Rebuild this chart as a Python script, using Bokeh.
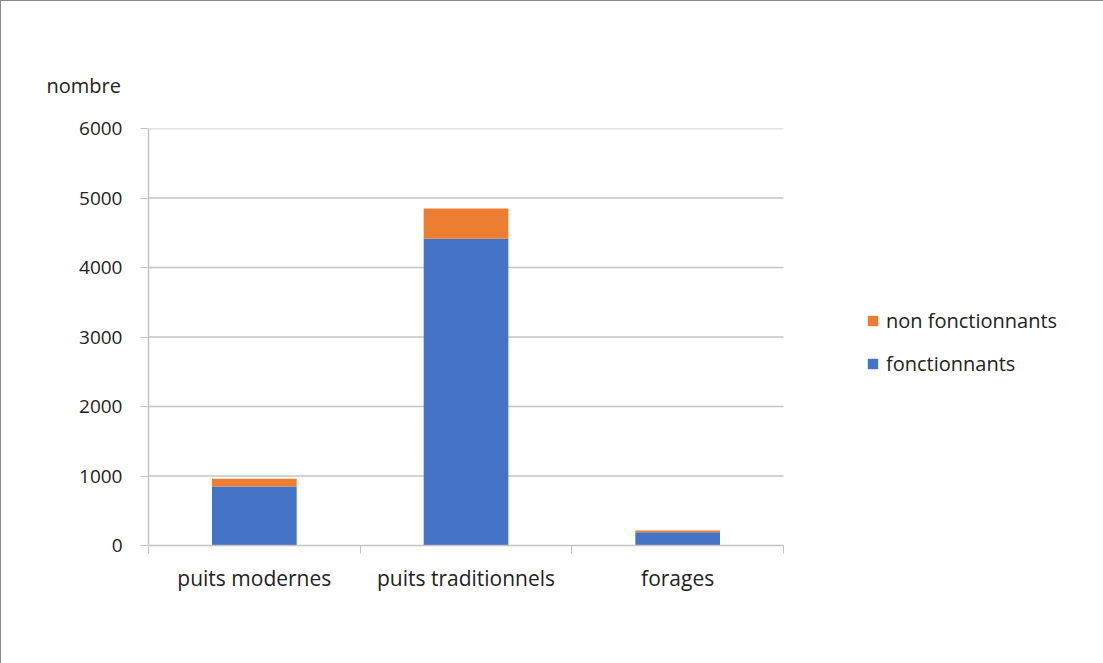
from bokeh.plotting import figure
from bokeh.models import (ColumnDataSource, FixedTicker, LinearAxis, Legend, LegendItem,
                          Title, Range1d)
from bokeh.embed import file_html
from bokeh.resources import INLINE

categories = ["puits modernes", "puits traditionnels", "forages"]
fonctionnants = [850, 4415, 190]
non_fonctionnants = [110, 435, 25]
y_ticks = [0, 1000, 2000, 3000, 4000, 5000, 6000]

BLUE = "#4472C4"
ORANGE = "#ED7D31"
FONT = "Open Sans"
GRID = "#c4c4c4"
TXT = "#222222"

# layout: categories occupy 635 px of a 955 px frame (rest holds the legend)
PLOT_W = 635
FRAME_W = 955
n = len(categories)
x_end = n * FRAME_W / PLOT_W

xc = [i + 0.5 for i in range(n)]
tops = [a + b for a, b in zip(fonctionnants, non_fonctionnants)]
src = ColumnDataSource(dict(x=xc, f=fonctionnants, top=tops, zero=[0] * n))

p = figure(frame_width=FRAME_W, frame_height=417, output_backend="svg", toolbar_location=None,
           x_range=Range1d(0, x_end), y_range=Range1d(0, 6000),
           min_border_left=147, min_border_right=0, min_border_top=127, min_border_bottom=119,
           x_axis_type=None, y_axis_type=None)
p.outline_line_color = None
p.styles = {"border": "1px solid #8a8a8a", "box-sizing": "border-box"}

p.ygrid.visible = False
p.xgrid.visible = False

# horizontal gridlines limited to the category area
gy = y_ticks[1:]
p.segment(x0=[0] * len(gy), y0=gy, x1=[n] * len(gy), y1=gy, line_color=GRID, line_width=1.5)

r_f = p.vbar(x="x", width=0.40, bottom="zero", top="f", source=src, fill_color=BLUE, line_color=None)
r_n = p.vbar(x="x", width=0.40, bottom="f", top="top", source=src, fill_color=ORANGE, line_color=None)

# y axis
yax = LinearAxis(ticker=FixedTicker(ticks=y_ticks))
yax.axis_line_color = GRID
yax.axis_line_width = 1.5
yax.major_tick_line_color = GRID
yax.major_tick_out = 8
yax.major_tick_in = 0
yax.minor_tick_line_color = None
yax.major_label_text_font = FONT
yax.major_label_text_font_size = "19px"
yax.major_label_text_color = TXT
yax.major_label_standoff = 18
p.add_layout(yax, "left")

# x axis with boundary ticks
xax = LinearAxis(ticker=FixedTicker(ticks=list(range(n + 1))), bounds=(0, n),
                 major_label_overrides={i: "" for i in range(n + 1)})
xax.axis_line_color = GRID
xax.axis_line_width = 1.5
xax.major_tick_line_color = GRID
xax.major_tick_out = 8
xax.major_tick_in = 0
xax.minor_tick_line_color = None
xax.major_label_text_font_size = "1px"
xax.major_label_standoff = 0
p.add_layout(xax, "below")

# category labels
xlab = LinearAxis(ticker=FixedTicker(ticks=xc),
                  major_label_overrides={x: c for x, c in zip(xc, categories)})
xlab.axis_line_color = None
xlab.major_tick_line_color = None
xlab.minor_tick_line_color = None
xlab.major_label_text_font = FONT
xlab.major_label_text_font_size = "21px"
xlab.major_label_text_color = TXT
xlab.major_label_standoff = 4
p.add_layout(xlab, "below")

p.add_layout(Title(text="nombre", align="left", offset=-102, text_font=FONT,
                   text_font_size="20px", text_font_style="normal", text_color=TXT,
                   standoff=60), "above")

legend = Legend(items=[LegendItem(label="non fonctionnants", renderers=[r_n]),
                       LegendItem(label="fonctionnants", renderers=[r_f])],
                location=(718, 168), orientation="vertical")
legend.background_fill_alpha = 0
legend.border_line_color = None
legend.glyph_width = 13
legend.glyph_height = 13
legend.label_standoff = 7
legend.spacing = 16
legend.padding = 0
legend.margin = 0
legend.label_text_font = FONT
legend.label_text_font_size = "20px"
legend.label_text_color = TXT
p.add_layout(legend, "center")

open("out.html", "w").write(file_html(p, INLINE))
